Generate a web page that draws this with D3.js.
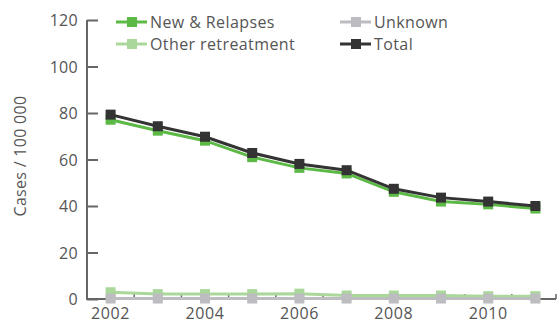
<!DOCTYPE html>
<html><head><meta charset="utf-8">
<script src="https://cdn.jsdelivr.net/npm/d3@7/dist/d3.min.js"></script>
<style>body{margin:0;background:#fff}svg{display:block}text{font-family:"Open Sans",sans-serif;fill:#555}</style>
</head><body><svg id="c" width="559" height="322"></svg>
<script>
const years = [2002,2003,2004,2005,2006,2007,2008,2009,2010,2011];
const newRelapses = [77.1,72.4,68.1,61.0,56.4,54.0,46.1,41.9,40.7,38.9];
const otherRetreatment = [2.9,2.1,2.1,2.1,2.3,1.5,1.5,1.5,1.2,1.2];
const unknown = [0.2,0.2,0.2,0.2,0.2,0.2,0.2,0.2,0.2,0.2];
const total = [79.3,74.3,69.8,62.8,58.1,55.4,47.4,43.6,41.9,40.0];
const yTicks = [0,20,40,60,80,100,120];
const xTickLabels = [2002,2004,2006,2008,2010];
const seriesNames = ["New & Relapses","Other retreatment","Unknown","Total"];

const svg = d3.select("#c");
const x = d3.scaleBand().domain(years).range([87,559]);
const y = d3.scaleLinear().domain([0,120]).range([299,20]);
const axisColor = "#666";

// y axis
const ya = svg.append("g").attr("transform","translate(87,0)")
  .call(d3.axisRight(y).tickValues(yTicks).tickSize(11).tickFormat(d=>d));
ya.select(".domain").attr("stroke",axisColor).attr("stroke-width",2).attr("d","M0,"+y(120)+"V"+y(0));
ya.selectAll(".tick line").attr("stroke",axisColor).attr("stroke-width",2);
ya.selectAll(".tick text").attr("x",-9).attr("text-anchor","end").attr("dy","0.36em")
  .style("font-size","16px").style("letter-spacing","0.3px").style("fill","#555");

// x axis
const xa = svg.append("g").attr("transform","translate(0,"+y(0)+")");
xa.append("line").attr("x1",86).attr("x2",556).attr("stroke",axisColor).attr("stroke-width",2);
const bounds = years.slice(1).map(d=>x(d)).concat([556]);
xa.selectAll("line.t").data(bounds).join("line").attr("class","t")
  .attr("x1",d=>d).attr("x2",d=>d).attr("y1",0).attr("y2",-5).attr("stroke",axisColor).attr("stroke-width",1.5);
xa.selectAll("text").data(xTickLabels).join("text")
  .attr("x",d=>x(d)+x.bandwidth()/2).attr("y",19.5).attr("text-anchor","middle")
  .style("font-size","16px").style("letter-spacing","0.6px").text(d=>d);

// y title
svg.append("text").attr("transform","translate(26,156) rotate(-90)").attr("text-anchor","middle")
  .style("font-size","16px").style("letter-spacing","0.3px").text("Cases / 100 000");

const cx = d => x(d)+x.bandwidth()/2;
const series = [
  {name:"Other retreatment", values:otherRetreatment, color:"#aad89a", w:3},
  {name:"Unknown", values:unknown, color:"#bdbdc1", w:3},
  {name:"New & Relapses", values:newRelapses, color:"#5cb946", w:3},
  {name:"Total", values:total, color:"#333333", w:3}
];
const line = d3.line().x((d,i)=>cx(years[i])).y(d=>y(d));
series.forEach(s=>{
  const g = svg.append("g");
  g.append("path").attr("d",line(s.values)).attr("fill","none").attr("stroke",s.color).attr("stroke-width",s.w);
  g.selectAll("rect").data(s.values).join("rect")
    .attr("x",(d,i)=>cx(years[i])-5).attr("y",d=>y(d)-5).attr("width",10).attr("height",10).attr("fill",s.color);
});

// legend
const legendPos = [[116,22],[116,44],[340,22],[340,44]];
seriesNames.forEach((n,i)=>{
  const s = series.find(t=>t.name===n);
  const [lx,ly] = legendPos[i];
  const g = svg.append("g").attr("transform","translate("+lx+","+ly+")");
  g.append("line").attr("x1",0).attr("x2",31).attr("stroke",s.color).attr("stroke-width",3);
  g.append("rect").attr("x",11).attr("y",-5).attr("width",10).attr("height",10).attr("fill",s.color);
  g.append("text").attr("x",34).attr("dy","0.36em").style("font-size","16px").style("letter-spacing","0.4px").text(n);
});
</script></body></html>
